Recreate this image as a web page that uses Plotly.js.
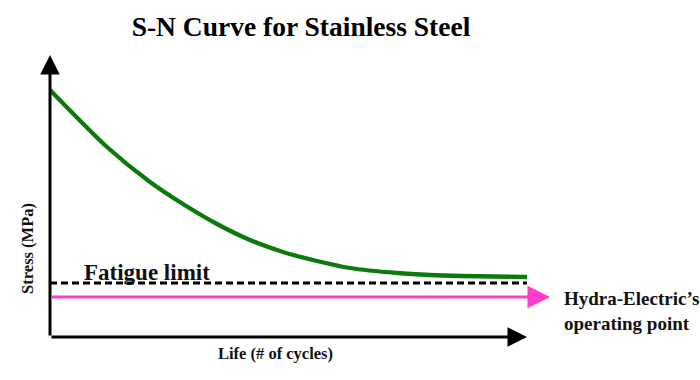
<!DOCTYPE html>
<html>
<head>
<meta charset="utf-8">
<script src="https://cdn.plot.ly/plotly-3.0.1.min.js"></script>
<style>html,body{margin:0;padding:0;background:#fff;}#chart{width:700px;height:380px;}</style>
</head>
<body>
<div id="chart"></div>
<script>
// Data (arbitrary units)
const lifeCycles = [0, 57, 100, 133, 167, 200, 233, 267, 300, 347, 380, 413, 477];
const stressMPa  = [247, 190, 155, 133, 113, 97, 85, 76, 69, 64, 62, 61, 60];
const fatigueLimit = 54;
const operatingStress = 40;
const lifeMax = 477;
const axisXEnd = 477;
const axisYEnd = 282;
const operatingEnd = 500;

const serif = "Liberation Serif";

const traces = [
  {
    x: lifeCycles, y: stressMPa, type: 'scatter', mode: 'lines',
    line: {color: '#0b7a0b', width: 4.3, shape: 'spline', smoothing: 0.8},
    hoverinfo: 'skip', showlegend: false
  },
  {
    x: [0, lifeMax], y: [fatigueLimit, fatigueLimit], type: 'scatter', mode: 'lines',
    line: {color: '#000', width: 2.8, dash: '7px,4px'},
    hoverinfo: 'skip', showlegend: false
  }
];

const arrow = (x, y, ax, ay, color, width, size) => ({
  x: x, y: y, ax: ax, ay: ay, xref: 'x', yref: 'y', axref: 'x', ayref: 'y',
  text: '', showarrow: true, arrowhead: 2, arrowsize: size, arrowwidth: width,
  arrowcolor: color, standoff: 0, startstandoff: 0
});

const layout = {
  width: 700, height: 380,
  margin: {l: 50, r: 150, t: 50, b: 43},
  paper_bgcolor: '#fff', plot_bgcolor: '#fff',
  title: {
    text: '<b>S-N Curve for Stainless Steel</b>',
    font: {family: serif, size: 27.5, color: '#000'},
    xref: 'container', yref: 'container', x: 0.43, y: 0.93, xanchor: 'center', yanchor: 'middle'
  },
  xaxis: {range: [0, 500], showgrid: false, zeroline: false, showline: false, showticklabels: false, ticks: '', fixedrange: true},
  yaxis: {range: [0, 287], showgrid: false, zeroline: false, showline: false, showticklabels: false, ticks: '', fixedrange: true},
  annotations: [
    arrow(0, axisYEnd, 0, 0, '#000', 3, 1.3),
    arrow(axisXEnd, 0, 0, 0, '#000', 3, 1.3),
    arrow(operatingEnd, operatingStress, 0, operatingStress, '#ff3dcc', 3, 1.5),
    {x: 0.064, y: 0.226, xref: 'paper', yref: 'paper', xanchor: 'left', yanchor: 'middle', showarrow: false,
     text: '<b>Fatigue limit</b>', font: {family: serif, size: 23, color: '#111'}},
    {x: 1.024, y: 0.09, xref: 'paper', yref: 'paper', xanchor: 'left', yanchor: 'middle', align: 'left', showarrow: false,
     text: '<b>Hydra-Electric\u2019s<br>operating point</b>', font: {family: serif, size: 19, color: '#111'}},
    {x: 0.45, y: -0.056, xref: 'paper', yref: 'paper', xanchor: 'center', yanchor: 'middle', showarrow: false,
     text: '<b>Life (# of cycles)</b>', font: {family: serif, size: 16.5, color: '#111'}},
    {x: -0.044, y: 0.307, xref: 'paper', yref: 'paper', xanchor: 'center', yanchor: 'middle', showarrow: false, textangle: -90,
     text: '<b>Stress (MPa)</b>', font: {family: serif, size: 16.5, color: '#111'}}
  ]
};

Plotly.newPlot('chart', traces, layout, {displayModeBar: false, staticPlot: true});
</script>
</body>
</html>
